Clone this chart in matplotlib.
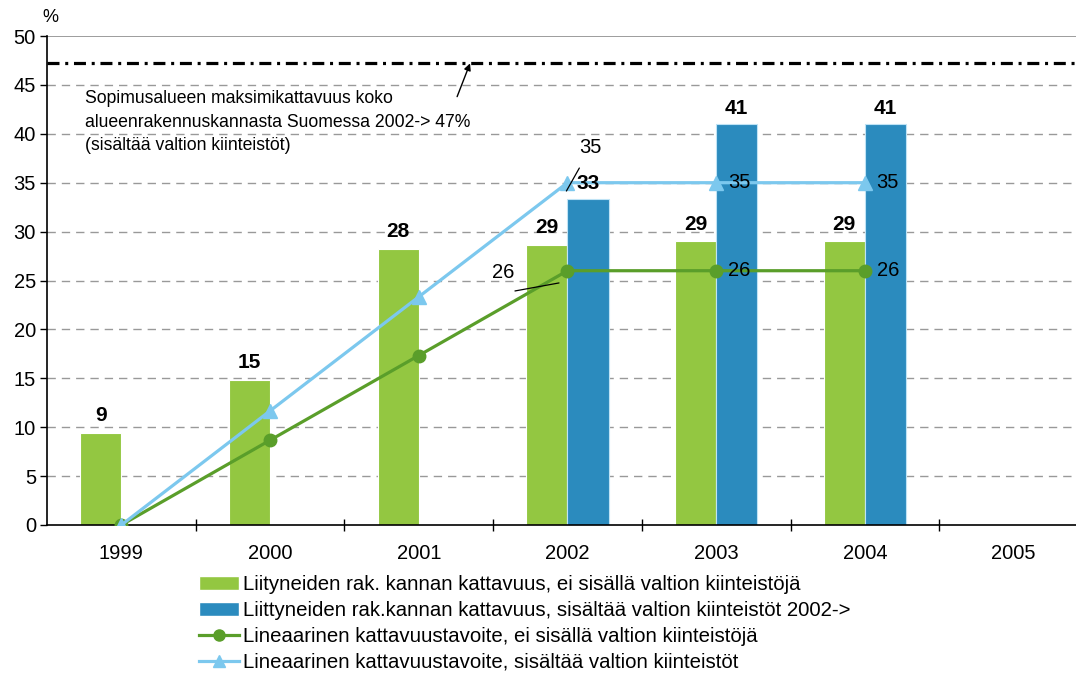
import matplotlib
matplotlib.use("Agg")
import matplotlib.pyplot as plt
from matplotlib.patches import Patch
from matplotlib.lines import Line2D
import numpy as np

plt.rcParams['font.family'] = ['Liberation Sans', 'DejaVu Sans']

years = ['1999', '2000', '2001', '2002', '2003', '2004', '2005']
green_bars = [9.4, 14.8, 28.2, 28.6, 29.0, 29.0, None]
green_labels = ['9', '15', '28', '29', '29', '29', None]
blue_bars = [None, None, None, 33.3, 41.0, 41.0, None]
blue_labels = [None, None, None, '33', '41', '41', None]
green_line = [0, 8.67, 17.33, 26, 26, 26]
blue_line = [0, 11.67, 23.33, 35, 35, 35]
max_level = 47.2

legend_labels = [
    'Liityneiden rak. kannan kattavuus, ei sisällä valtion kiinteistöjä',
    'Liittyneiden rak.kannan kattavuus, sisältää valtion kiinteistöt 2002->',
    'Lineaarinen kattavuustavoite, ei sisällä valtion kiinteistöjä',
    'Lineaarinen kattavuustavoite, sisältää valtion kiinteistöt',
]
annot_text = ('Sopimusalueen maksimikattavuus koko\n'
              'alueenrakennuskannasta Suomessa 2002-> 47%\n'
              '(sisältää valtion kiinteistöt)')

C_GREEN_BAR = '#93c741'
C_BLUE_BAR = '#2b8bbe'
C_GREEN_LINE = '#5a9e2a'
C_BLUE_LINE = '#7cc8ee'

fig = plt.figure(figsize=(10.76, 6.75), dpi=100)
ax = fig.add_axes([47/1076, 150/675, 1 - 47/1076, 489/675])

x = np.arange(len(years))
bw = 0.277

# gridlines
for yv in range(5, 50, 5):
    ax.axhline(yv, color='#999999', lw=1.0, ls=(0, (6, 4.3)), zorder=0)
ax.axhline(50, color='#8c8c8c', lw=1.2, zorder=0)

# bars
for i, v in enumerate(green_bars):
    if v is None:
        continue
    ax.bar(x[i] - bw/2, v, width=bw, color=C_GREEN_BAR, edgecolor='white', lw=0.8, zorder=2)
    ax.annotate(green_labels[i], (x[i] - bw/2, v), xytext=(0, 12.5), textcoords='offset points',
                ha='center', va='center', fontsize=15, fontweight='bold', zorder=5)
for i, v in enumerate(blue_bars):
    if v is None:
        continue
    ax.bar(x[i] + bw/2, v, width=bw, color=C_BLUE_BAR, edgecolor='#bfe3f5', lw=0.8, zorder=2)
    ax.annotate(blue_labels[i], (x[i] + bw/2, v), xytext=(0, 11.5), textcoords='offset points',
                ha='center', va='center', fontsize=15, fontweight='bold', zorder=5)

# lines
lx = np.arange(len(green_line))
ax.plot(lx, green_line, color=C_GREEN_LINE, lw=2.3, marker='o', ms=9, zorder=3)
ax.plot(lx, blue_line, color=C_BLUE_LINE, lw=2.3, marker='^', ms=10, zorder=4)

# line value labels
for i in (4, 5):
    ax.annotate(f'{blue_line[i]:g}', (lx[i], blue_line[i]), xytext=(8.5, 0), textcoords='offset points',
                ha='left', va='center', fontsize=14.5, zorder=6)
    ax.annotate(f'{green_line[i]:g}', (lx[i], green_line[i]), xytext=(8.5, 0), textcoords='offset points',
                ha='left', va='center', fontsize=14.5, zorder=6)
# leader-lined labels at 2002
ax.text(lx[3] + 0.152, 38.65, f'{blue_line[3]:g}', ha='center', va='center', fontsize=14.5, zorder=6)
ax.annotate('', xy=(lx[3] + 0.08, 36.5), xytext=(lx[3] - 0.007, 34.15),
            arrowprops=dict(arrowstyle='-', color='black', lw=0.9, shrinkA=0, shrinkB=0), zorder=6)
ax.text(lx[3] - 0.433, 25.77, f'{green_line[3]:g}', ha='center', va='center', fontsize=14.5, zorder=6)
ax.annotate('', xy=(lx[3] - 0.057, 24.75), xytext=(lx[3] - 0.353, 23.93),
            arrowprops=dict(arrowstyle='-', color='black', lw=0.9, shrinkA=0, shrinkB=0), zorder=6)

# max line
ax.axhline(max_level, color='black', lw=2.3, ls=(0, (3.75, 1.8, 0.94, 1.8)), zorder=3)
ax.text(-0.245, 41.2, annot_text, ha='left', va='center', fontsize=12.7, linespacing=1.52, zorder=6)
ax.annotate('', xy=(2.345, max_level), xytext=(2.258, 43.8),
            arrowprops=dict(arrowstyle='-|>', color='black', lw=1.0, mutation_scale=10,
                            shrinkA=0, shrinkB=0), zorder=6)

# axes styling
ax.set_xlim(-0.5, -0.5 + 1029/148.7)
ax.set_ylim(0, 50)
ax.set_yticks(range(0, 51, 5))
ax.set_xticks(x)
ax.set_xticklabels(years)
ax.set_xticks(np.arange(0.5, 6.0, 1), minor=True)
ax.tick_params(axis='x', which='major', length=0, pad=14, labelsize=14.5)
ax.tick_params(axis='x', which='minor', direction='inout', length=9, width=1)
ax.tick_params(axis='y', direction='out', length=5, width=1, labelsize=14.5, pad=3)
for s in ('top', 'right'):
    ax.spines[s].set_visible(False)
ax.spines['left'].set_linewidth(1.2)
ax.spines['bottom'].set_linewidth(1.2)

fig.text(50/1076, 1 - 18/675, '%', ha='center', va='center', fontsize=13)

handles = [
    Patch(facecolor=C_GREEN_BAR, edgecolor='white'),
    Patch(facecolor=C_BLUE_BAR, edgecolor='white'),
    Line2D([0], [0], color=C_GREEN_LINE, lw=2.3, marker='o', ms=8),
    Line2D([0], [0], color=C_BLUE_LINE, lw=2.3, marker='^', ms=9),
]
fig.legend(handles, legend_labels, loc='upper left', bbox_to_anchor=(191/1076, 1 - 567/675),
           frameon=False, fontsize=14.7, handlelength=1.95, handleheight=0.7, handletextpad=0.2,
           labelspacing=0.34, borderaxespad=0)

fig.savefig('out.png', dpi=100)
